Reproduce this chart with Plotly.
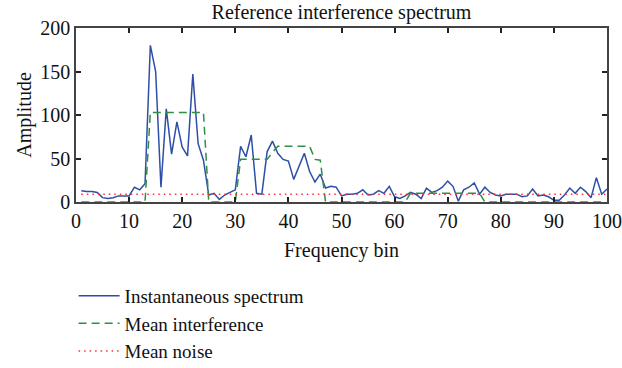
import plotly.graph_objects as go

bins = list(range(1, 101))

instantaneous = [13, 12, 12, 11, 5, 4, 5, 7, 7, 7,
                 17, 14, 21, 180, 150, 17, 107, 55, 92, 63,
                 53, 147, 67, 48, 8, 10, 3, 8, 11, 14,
                 64, 52, 77, 10, 9, 58, 70, 56, 49, 47,
                 26, 40, 56, 35, 23, 32, 16, 18, 17, 7,
                 9, 9, 10, 14, 8, 9, 13, 10, 18, 6,
                 4, 7, 11, 9, 4, 16, 11, 13, 17, 24,
                 18, 1, 14, 17, 22, 9, 17, 11, 8, 7,
                 9, 9, 9, 6, 7, 15, 7, 8, 6, 2,
                 2, 8, 16, 10, 17, 12, 5, 28, 9, 15]

mean_interference = [0] * 13 + [103] * 11 + [0] * 6 + [49] * 6 + [57] + [64] * 7 + [49, 48] + [0] * 16 + [10] * 14 + [0] * 23

mean_noise = [9] * 100

font_family = "Liberation Serif"
txt = "#111111"

fig = go.Figure()
fig.add_trace(go.Scatter(x=bins, y=instantaneous, mode="lines", name="Instantaneous spectrum",
                         line=dict(color="#2d4fa6", width=1.5)))
fig.add_trace(go.Scatter(x=bins, y=mean_interference, mode="lines", name="Mean interference",
                         line=dict(color="#2f8f46", width=1.5, dash="8px,5px")))
fig.add_trace(go.Scatter(x=bins, y=mean_noise, mode="lines", name="Mean noise",
                         line=dict(color="#ff3030", width=1.5, dash="1.5px,4px")))

axis_common = dict(showgrid=False, zeroline=False, showline=True, linecolor="#444444", linewidth=1.5,
                   mirror="ticks", ticks="inside", ticklen=5, tickwidth=1.5, tickcolor="#222222",
                   tickfont=dict(family=font_family, size=20, color=txt))

fig.update_xaxes(range=[0, 100], tick0=0, dtick=10,
                 title=dict(text="Frequency bin", font=dict(family=font_family, size=20, color=txt), standoff=12),
                 **axis_common)
fig.update_yaxes(range=[0, 200], tick0=0, dtick=50,
                 title=dict(text="Amplitude", font=dict(family=font_family, size=20, color=txt), standoff=3),
                 **axis_common)

fig.update_layout(
    width=622, height=368,
    margin=dict(l=76, r=15, t=28, b=166, autoexpand=False),
    paper_bgcolor="white", plot_bgcolor="white",
    title=dict(text="Reference interference spectrum", x=0.5, xref="paper",
               y=1, yref="paper", yanchor="bottom", pad=dict(b=9),
               font=dict(family=font_family, size=20, color=txt)),
    font=dict(family=font_family, size=20, color=txt),
    legend=dict(x=-0.0045, y=-0.43, xanchor="left", yanchor="top", itemwidth=41,
                bgcolor="rgba(0,0,0,0)", font=dict(family=font_family, size=19, color=txt),
                tracegroupgap=0),
    showlegend=True,
)

fig.write_html("out.html")
